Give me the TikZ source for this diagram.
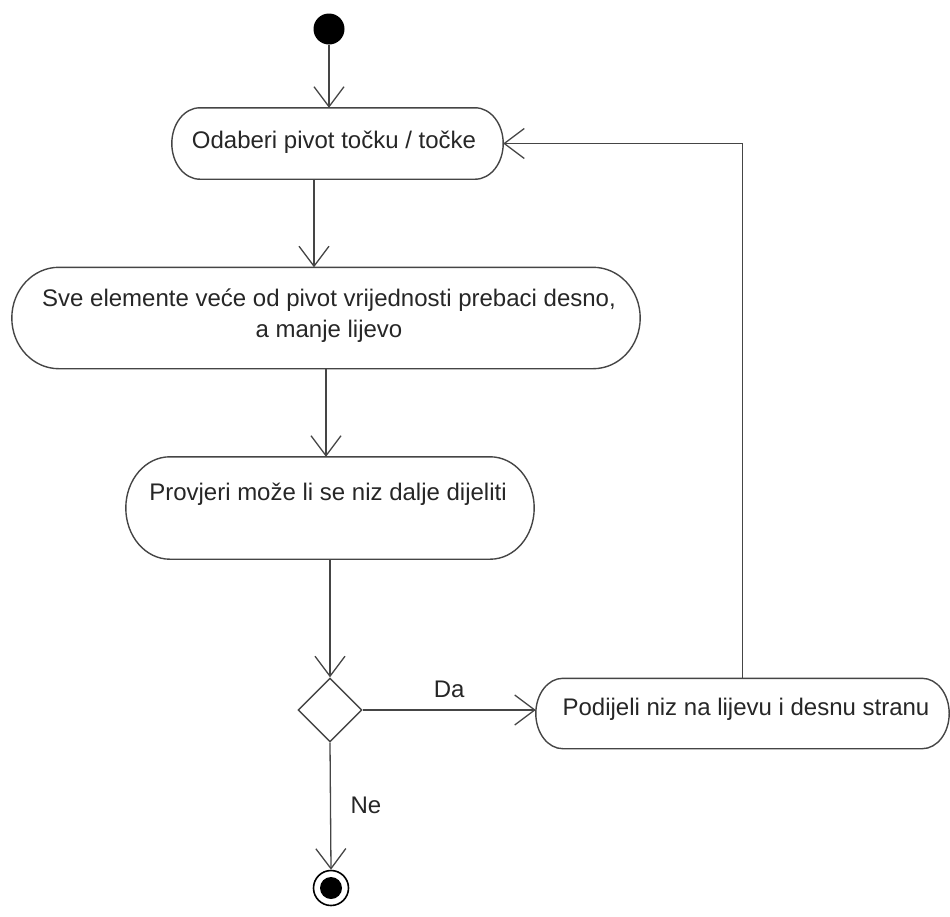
\documentclass[tikz,border=0pt]{standalone}
\usepackage{fontspec}
\setmainfont{Liberation Sans}
\usetikzlibrary{arrows.meta,shapes.geometric,calc}

\definecolor{edge}{HTML}{454545}

\tikzset{
  boxline/.style={draw=edge, line width=1.4pt},
  actbox/.style={rectangle, draw=none, inner sep=0pt},
  txt/.style={anchor=base, inner sep=0pt, text=black!85,
    font=\fontsize{24}{31}\selectfont, align=center},
  flow/.style={draw=edge, line width=1.3pt,
    -{Straight Barb[length=20pt, width=30pt, line width=1.3pt]}},
  choice/.style={diamond, draw=edge, line width=1.4pt, fill=white,
    minimum width=64pt, minimum height=64pt, inner sep=0pt, aspect=1},
}

% capsule outline with elliptical ends around a named node
\newcommand\capsule[2]{%
  \draw[boxline] let \p1=(#1.north west), \p2=(#1.south east),
    \n1={(\y1-\y2)/2} in
    (\x1+#2,\y1) -- (\x2-#2,\y1)
    arc[start angle=90, end angle=-90, x radius=#2, y radius=\n1]
    -- (\x1+#2,\y2)
    arc[start angle=270, end angle=90, x radius=#2, y radius=\n1]
    -- cycle;}

\begin{document}
\begin{tikzpicture}[x=1pt, y=-1pt]
  \useasboundingbox (0,0) rectangle (950,916);

  % start and end markers
  \node[circle, fill=black, minimum size=31pt, inner sep=0pt] (start) at (329,29) {};
  \node[circle, draw=black, line width=1.6pt, fill=white, minimum size=35pt, inner sep=0pt] (stop) at (331,888) {};
  \fill[black] (stop.center) circle[radius=11pt];

  % action boxes
  \node[actbox, minimum width=331pt, minimum height=71pt] (b1) at (337.5,143.5) {};
  \node[actbox, minimum width=628pt, minimum height=101pt] (b2) at (326,318) {};
  \node[actbox, minimum width=408pt, minimum height=102pt] (b3) at (330,508) {};
  \node[actbox, minimum width=413pt, minimum height=70pt] (b4) at (742.5,713.5) {};
  \capsule{b1}{28pt}
  \capsule{b2}{47pt}
  \capsule{b3}{44pt}
  \capsule{b4}{27pt}

  \node[txt] (t1) at (334,148) {Odaberi pivot točku / točke};
  \node[txt] (t2) at (329,337) {Sve elemente veće od pivot vrijednosti prebaci desno,\\a manje lijevo};
  \node[txt] (t3) at (328,500) {Provjeri može li se niz dalje dijeliti};
  \node[txt] (t4) at (746,715) {Podijeli niz na lijevu i desnu stranu};

  % decision
  \node[choice] (dec) at (330,710) {};

  % connectors
  \draw[flow] (start) -- (start |- b1.north);
  \draw[flow] ([xshift=-23.5pt]b1.south) -- ([xshift=-23.5pt]b1.south |- b2.north);
  \draw[flow] (b2.south) -- (b2.south |- b3.north);
  \draw[flow] (b3.south) -- (dec.north);
  \draw[flow] (dec.east) -- node[txt, above=13pt, anchor=base] (da) {Da} (dec.east -| b4.west);
  \draw[flow] (dec.south) -- (stop.north);
  \node[txt] (ne) at (366,813) {Ne};
  \draw[flow] (b4.north) |- (b1.east);
\end{tikzpicture}
\end{document}
